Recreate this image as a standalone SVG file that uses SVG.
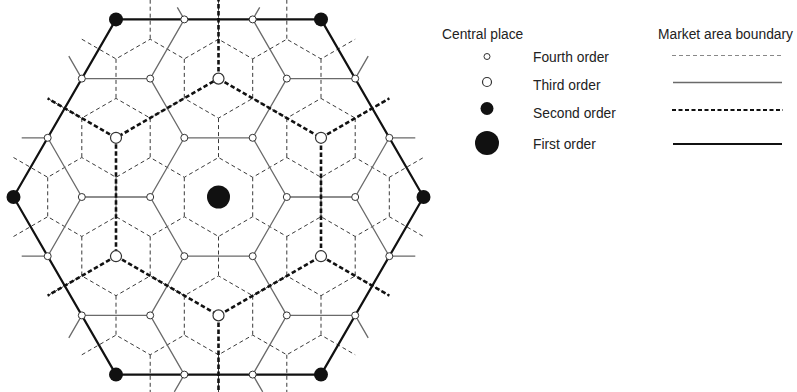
<svg xmlns="http://www.w3.org/2000/svg" width="797" height="392" viewBox="0 0 797 392">
<style>
.d4{fill:none;stroke:#3a3a3a;stroke-width:1;stroke-dasharray:4 3}
.s3{fill:none;stroke:#6a6a6a;stroke-width:1.3}
.d2{fill:none;stroke:#111;stroke-width:2.6;stroke-dasharray:4.5 2.5}
.s1{fill:none;stroke:#111;stroke-width:2.2;stroke-linejoin:round}
.p4{fill:#fff;stroke:#333;stroke-width:1}
.p3{fill:#fff;stroke:#333;stroke-width:1.2}
.p2,.p1{fill:#111}
text{font-family:"Liberation Sans",Arial,sans-serif;font-size:13.8px;fill:#222}
</style>
<rect width="797" height="392" fill="#fff"/>
<g id="connectors">
<path id="fourth-order-boundaries" class="d4" d="M81.8,39.2 L116,58.9 L150.2,39.2 L184.3,58.9 L218.5,39.2 L252.7,58.9 L286.8,39.2 L321,58.9 L355.2,39.2
M47.7,98.4 L81.8,118.1 L116,98.4 L150.2,118.1 L184.3,98.4 L218.5,118.1 L252.7,98.4 L286.8,118.1 L321,98.4 L355.2,118.1 L389.3,98.4
M13.5,157.5 L47.7,177.3 L81.8,157.5 L116,177.3 L150.2,157.5 L184.3,177.3 L218.5,157.5 L252.7,177.3 L286.8,157.5 L321,177.3 L355.2,157.5 L389.3,177.3 L423.5,157.5
M13.5,236.5 L47.7,216.7 L81.8,236.5 L116,216.7 L150.2,236.5 L184.3,216.7 L218.5,236.5 L252.7,216.7 L286.8,236.5 L321,216.7 L355.2,236.5 L389.3,216.7 L423.5,236.5
M47.7,295.7 L81.8,275.9 L116,295.7 L150.2,275.9 L184.3,295.7 L218.5,275.9 L252.7,295.7 L286.8,275.9 L321,295.7 L355.2,275.9 L389.3,295.7
M81.8,354.8 L116,335.1 L150.2,354.8 L184.3,335.1 L218.5,354.8 L252.7,335.1 L286.8,354.8 L321,335.1 L355.2,354.8
M150.2,-0.3V39.2 M218.5,-0.3V39.2 M286.8,-0.3V39.2
M116,58.9V98.4 M184.3,58.9V98.4 M252.7,58.9V98.4 M321,58.9V98.4
M81.8,118.1V157.5 M150.2,118.1V157.5 M218.5,118.1V157.5 M286.8,118.1V157.5 M355.2,118.1V157.5
M47.7,177.3V216.7 M116,177.3V216.7 M184.3,177.3V216.7 M252.7,177.3V216.7 M321,177.3V216.7 M389.3,177.3V216.7
M81.8,236.5V275.9 M150.2,236.5V275.9 M218.5,236.5V275.9 M286.8,236.5V275.9 M355.2,236.5V275.9
M116,295.7V335.1 M184.3,295.7V335.1 M252.7,295.7V335.1 M321,295.7V335.1
M150.2,354.8V394.3 M218.5,354.8V394.3 M286.8,354.8V394.3"/>
<path id="third-order-boundaries" class="s3" d="M286.8,197 L252.7,256.2 L184.3,256.2 L150.2,197 L184.3,137.8 L252.7,137.8 Z
M286.8,197 H355.2 M389.3,137.8 L355.2,197 L389.3,256.2
M252.7,256.2 L286.8,315.4 M252.7,374.6 L286.8,315.4 L355.2,315.4
M184.3,256.2 L150.2,315.4 M184.3,374.6 L150.2,315.4 L81.8,315.4
M150.2,197 H81.8 M47.7,137.8 L81.8,197 L47.7,256.2
M184.3,137.8 L150.2,78.6 M184.3,19.4 L150.2,78.6 L81.8,78.6
M252.7,137.8 L286.8,78.6 M252.7,19.4 L286.8,78.6 L355.2,78.6
M389.3,137.8 H415.3 M389.3,256.2 H415.3 M47.7,137.8 H21.7 M47.7,256.2 H21.7
M355.2,315.4 L368.2,337.9 M355.2,78.6 L368.2,56.1 M81.8,315.4 L68.8,337.9 M81.8,78.6 L68.8,56.1
M252.7,19.4 L259.7,7.3 M184.3,19.4 L177.3,7.3 M252.7,374.6 L262.7,391.9 M184.3,374.6 L174.3,391.9"/>
<path id="second-order-boundaries" class="d2" d="M218.5,78.6 L321,137.8 L321,256.2 L218.5,315.4 L116,256.2 L116,137.8 Z
M218.5,78.6 V-0.3 M321,137.8 L389.3,98.4 M321,256.2 L389.3,295.7 M218.5,315.4 V394.3 M116,256.2 L47.7,295.7 M116,137.8 L47.7,98.4"/>
<path id="first-order-boundary" class="s1" d="M423.5,197 L321,374.6 L116,374.6 L13.5,197 L116,19.4 L321,19.4 Z"/>
</g>
<g id="places">
<g id="fourth-order-places">
<circle class="p4" cx="286.8" cy="197" r="3.5"/><circle class="p4" cx="150.2" cy="197" r="3.5"/>
<circle class="p4" cx="252.7" cy="256.2" r="3.5"/><circle class="p4" cx="184.3" cy="256.2" r="3.5"/>
<circle class="p4" cx="252.7" cy="137.8" r="3.5"/><circle class="p4" cx="184.3" cy="137.8" r="3.5"/>
<circle class="p4" cx="355.2" cy="197" r="3.5"/><circle class="p4" cx="81.8" cy="197" r="3.5"/>
<circle class="p4" cx="286.8" cy="315.4" r="3.5"/><circle class="p4" cx="150.2" cy="315.4" r="3.5"/>
<circle class="p4" cx="286.8" cy="78.6" r="3.5"/><circle class="p4" cx="150.2" cy="78.6" r="3.5"/>
<circle class="p4" cx="389.3" cy="256.2" r="3.5"/><circle class="p4" cx="389.3" cy="137.8" r="3.5"/>
<circle class="p4" cx="47.7" cy="256.2" r="3.5"/><circle class="p4" cx="47.7" cy="137.8" r="3.5"/>
<circle class="p4" cx="355.2" cy="315.4" r="3.5"/><circle class="p4" cx="355.2" cy="78.6" r="3.5"/>
<circle class="p4" cx="81.8" cy="315.4" r="3.5"/><circle class="p4" cx="81.8" cy="78.6" r="3.5"/>
<circle class="p4" cx="252.7" cy="374.6" r="3.5"/><circle class="p4" cx="184.3" cy="374.6" r="3.5"/>
<circle class="p4" cx="252.7" cy="19.4" r="3.5"/><circle class="p4" cx="184.3" cy="19.4" r="3.5"/>
</g>
<g id="third-order-places">
<circle class="p3" cx="218.5" cy="78.6" r="5.5"/><circle class="p3" cx="218.5" cy="315.4" r="5.5"/>
<circle class="p3" cx="321" cy="137.8" r="5.5"/><circle class="p3" cx="321" cy="256.2" r="5.5"/>
<circle class="p3" cx="116" cy="137.8" r="5.5"/><circle class="p3" cx="116" cy="256.2" r="5.5"/>
</g>
<g id="second-order-places">
<circle class="p2" cx="423.5" cy="197" r="7"/><circle class="p2" cx="321" cy="374.6" r="7"/>
<circle class="p2" cx="116" cy="374.6" r="7"/><circle class="p2" cx="13.5" cy="197" r="7"/>
<circle class="p2" cx="116" cy="19.4" r="7"/><circle class="p2" cx="321" cy="19.4" r="7"/>
</g>
<g id="first-order-place"><circle class="p1" cx="218.5" cy="197" r="11.5"/></g>
</g>
<g id="legend">
<text x="442" y="39">Central place</text>
<text x="658" y="39">Market area boundary</text>
<g id="legend-fourth"><circle class="p4" cx="487" cy="56.5" r="3"/><text x="533" y="61.5">Fourth order</text><line class="d4" x1="672" y1="55.5" x2="783" y2="55.5" style="stroke:#888"/></g>
<g id="legend-third"><circle class="p3" cx="487" cy="82" r="4.5"/><text x="533" y="89.5">Third order</text><line class="s3" x1="673" y1="82.5" x2="782" y2="82.5"/></g>
<g id="legend-second"><circle class="p2" cx="487" cy="108.5" r="6.5"/><text x="533" y="117.5">Second order</text><line class="d2" x1="672" y1="110" x2="783" y2="110" style="stroke-width:2;stroke-dasharray:4 2.5"/></g>
<g id="legend-first"><circle class="p1" cx="487" cy="143" r="12"/><text x="533" y="149">First order</text><line class="s1" x1="673" y1="144" x2="782" y2="144"/></g>
</g>
</svg>
